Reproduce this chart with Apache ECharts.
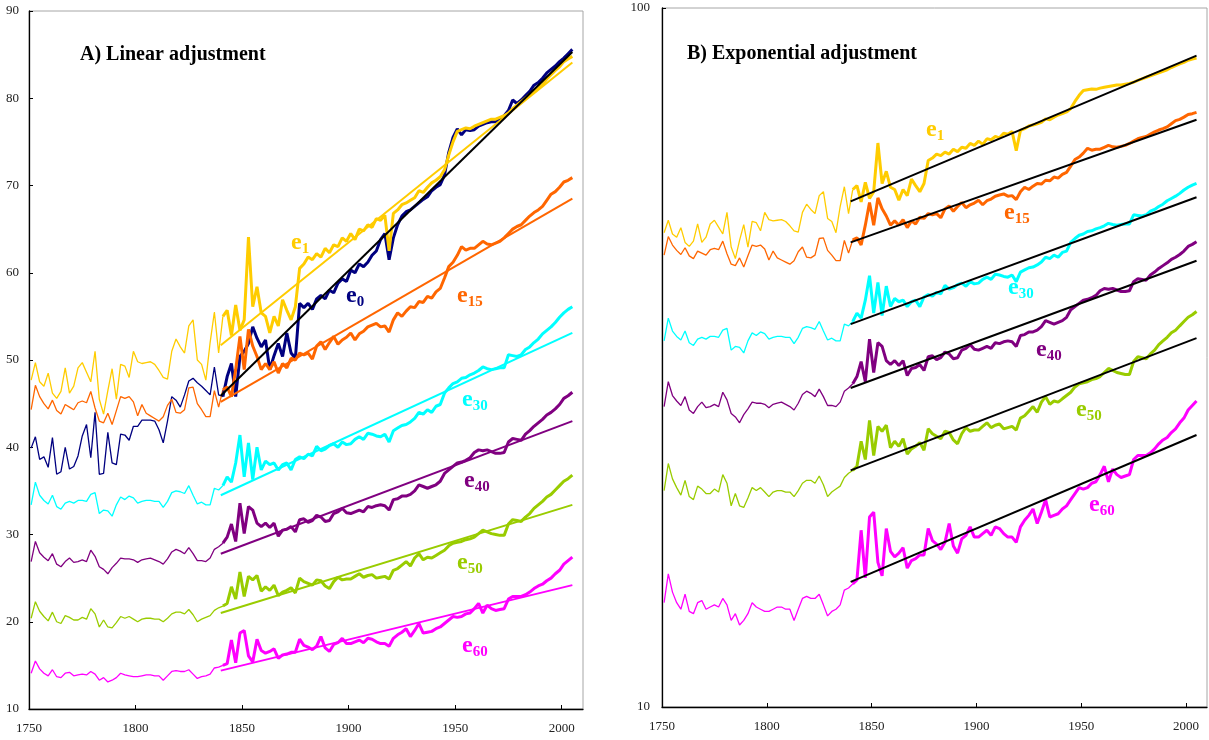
<!DOCTYPE html>
<html>
<head>
<meta charset="utf-8">
<script src="https://cdn.jsdelivr.net/npm/echarts@6/dist/echarts.min.js"></script>
<style>
  html, body { margin: 0; padding: 0; background: #fff; }
  #chart { width: 1209px; height: 740px; }
</style>
</head>
<body>
<div id="chart"></div>
<script>
  // years: thin part 1751-1839, thick part 1841-2005 (every second year)
  var yearsEarly = []
  for (var y = 1751; y <= 1839; y += 2) yearsEarly.push(y)
  var yearsLate = []
  for (var y2 = 1841; y2 <= 2005; y2 += 2) yearsLate.push(y2)
  var tickYears = [1750, 1800, 1850, 1900, 1950, 2000]
  var trendYears = [1840, 2005]

  // life expectancy e1
  var e1Early = [
    47.7, 49.7, 47.5, 47.0, 48.5, 46.2, 45.6, 46.4, 49.1, 46.2,
    47.0, 49.1, 49.7, 48.6, 47.5, 51.0, 45.5, 43.8, 46.5, 49.0,
    45.5, 49.5, 49.3, 48.0, 51.0, 49.8, 49.6, 49.7, 49.8, 49.5,
    48.8, 48.0, 47.8, 51.0, 52.4, 51.5, 50.8, 53.9, 54.6, 50.0,
    49.5, 47.7, 52.0, 55.5, 50.8
  ]
  var e1Late = [
    55.0, 55.7, 52.8, 56.3, 53.4, 54.6, 64.1, 56.1, 58.4, 55.4,
    55.0, 53.1, 55.0, 53.9, 56.9, 55.7, 54.6, 56.1, 60.5, 61.0,
    61.8, 61.5, 62.2, 61.8, 62.8, 62.3, 63.2, 63.0, 64.0, 63.6,
    64.5, 63.8, 65.0, 64.8, 65.5, 65.2, 66.2, 66.0, 66.6, 62.5,
    66.8, 67.2, 67.8, 68.0, 68.3, 68.6, 69.4, 69.2, 69.8, 70.3,
    70.6, 71.0, 71.8, 73.5, 75.0, 76.2, 76.4, 76.6, 76.5, 76.8,
    77.0, 77.2, 77.4, 77.6, 77.6, 77.8, 78.0, 78.3, 78.8, 79.2,
    79.6, 80.0, 80.4, 80.8, 81.2, 81.6, 82.2, 82.7, 83.2, 83.6,
    84.2, 84.5, 84.8
  ]
  // e0
  var e0Early = [
    39.9, 41.2, 38.6, 38.9, 37.7, 41.1, 36.9, 37.2, 40.0, 37.5,
    37.8, 39.0, 41.3, 42.6, 38.8, 44.0, 36.9, 37.0, 41.7, 38.2,
    38.0, 41.5, 41.4, 40.8, 42.4, 42.4, 43.1, 43.1, 43.1, 43.0,
    42.0, 40.5, 43.0, 45.8, 45.4, 44.6, 46.0, 47.6, 47.9, 47.4,
    47.0, 46.5, 46.0, 49.2, 46.0
  ]
  var e0Late = [
    45.8, 48.1, 49.6, 45.8, 50.4, 51.0, 51.9, 53.8, 52.5, 51.5,
    52.3, 48.9, 50.5, 51.9, 50.4, 53.1, 50.8, 50.2, 56.5, 56.0,
    56.5, 55.8, 57.0, 57.4, 57.0, 58.0, 57.7, 58.8, 59.3, 59.0,
    60.3, 60.0, 61.0, 60.7, 61.2, 62.0, 62.5, 63.8, 64.5, 61.5,
    64.0, 65.5, 66.5, 67.0, 67.2, 67.6, 68.0, 68.4, 68.7, 69.4,
    69.8, 70.1, 71.2, 73.8, 75.5, 76.5, 75.8, 76.4, 76.3, 76.4,
    76.8, 77.0, 77.2, 77.3, 77.3, 77.6, 78.0, 78.6, 79.8, 79.4,
    79.8, 80.3, 80.8, 81.5, 81.8, 82.3, 82.9, 83.3, 83.7, 84.2,
    84.6, 85.1, 85.6
  ]
  // e15
  var e15Early = [
    44.3, 47.1, 45.8, 45.0, 44.4, 45.4, 44.2, 43.8, 44.9, 44.6,
    44.3, 45.1, 45.3, 45.1, 46.4, 44.5, 43.0, 42.8, 43.9, 42.6,
    44.2, 45.8, 45.6, 45.8, 45.2, 43.6, 44.9, 43.9, 43.6, 43.3,
    43.0, 43.5, 44.8, 45.5, 44.0, 43.9, 44.3, 46.8, 46.9, 45.0,
    44.3, 43.5, 43.5, 46.5, 44.6
  ]
  var e15Late = [
    46.6, 46.9, 45.8, 48.9, 52.7, 48.9, 53.5, 51.6, 50.4, 48.9,
    49.6, 48.9, 49.8, 48.5, 49.6, 49.1, 50.2, 50.0, 50.8, 50.6,
    50.8, 50.1, 51.6, 52.1, 51.2, 52.0, 52.7, 51.8, 52.3, 52.6,
    53.1, 52.3, 53.0, 53.3, 53.8, 54.0, 54.2, 53.8, 53.9, 53.2,
    54.6, 55.4, 55.0, 55.6, 56.1, 56.0, 56.7, 56.6, 57.3, 57.1,
    57.8, 58.2, 59.4, 60.7, 61.2, 62.0, 63.0, 62.6, 62.8, 62.8,
    63.2, 63.6, 63.3, 63.2, 63.4, 63.6, 64.0, 64.5, 65.0, 65.3,
    65.5, 66.0, 66.5, 66.9, 67.2, 67.6, 68.3, 69.0, 69.3, 69.8,
    70.4, 70.6, 70.9
  ]
  // e30
  var e30Early = [
    33.4, 36.0, 34.5, 33.9, 33.5, 34.5, 33.2, 32.9, 33.6, 33.8,
    33.6, 33.9, 33.9, 33.8, 34.6, 34.8, 32.4, 32.8, 32.7, 32.1,
    33.4, 34.3, 34.0, 34.4, 34.2, 33.6, 33.8, 33.9, 33.9, 33.8,
    33.8, 33.1, 33.8, 34.8, 35.0, 34.9, 34.7, 35.6, 34.5, 33.5,
    33.7, 33.4, 33.4, 35.3, 35.1
  ]
  var e30Late = [
    35.6, 36.6, 36.0, 38.2, 41.4, 36.6, 40.5, 36.3, 40.0, 37.4,
    38.4, 38.0, 38.2, 37.4, 38.0, 38.2, 37.4, 38.6, 38.9, 38.7,
    39.2, 39.0, 40.1, 39.6, 39.8, 40.2, 40.4, 40.0, 40.6, 40.3,
    40.4, 40.9, 41.2, 40.9, 41.6, 41.5, 41.3, 41.2, 41.5, 40.6,
    41.9, 42.2, 42.5, 42.6, 42.9, 43.3, 44.0, 43.8, 44.3, 44.0,
    44.7, 44.9, 46.2, 46.8, 47.3, 47.5, 47.9, 48.0, 48.3, 48.5,
    48.8, 49.2, 49.0, 48.9, 49.0, 49.1, 49.1, 50.6, 50.5, 50.4,
    50.6, 51.2, 51.5, 52.0, 52.4, 53.0, 53.4, 53.8, 54.3, 54.9,
    55.4, 55.8, 56.1
  ]
  // e40
  var e40Early = [
    26.9, 29.2, 27.9, 27.4, 27.0, 27.8, 26.6, 26.3, 26.9, 27.3,
    26.8, 26.9, 27.1, 26.9, 28.2, 27.5, 26.3, 26.0, 25.5, 26.2,
    26.7, 27.3, 27.2, 27.2, 27.1, 26.8, 27.1, 27.2, 27.3, 27.1,
    26.9, 26.6, 27.2, 28.0, 28.3, 28.1, 27.8, 28.5, 27.8, 27.0,
    27.0, 26.9, 27.3, 28.3, 28.6
  ]
  var e40Late = [
    29.0, 29.7, 31.2, 29.2, 33.6, 30.1, 33.2, 32.8, 31.3, 30.9,
    31.3, 30.8, 31.3, 29.8, 30.5, 30.6, 30.9, 30.3, 31.7, 31.8,
    31.4, 31.6, 32.2, 32.0, 31.5, 31.6, 32.4, 32.6, 33.0, 32.5,
    32.4, 32.6, 32.8, 32.6, 33.2, 33.1, 33.3, 33.4, 33.3, 32.8,
    34.0, 34.1, 34.4, 34.4, 34.6, 35.0, 35.7, 35.5, 35.3, 35.5,
    35.7, 36.1, 37.0, 37.4, 37.8, 38.2, 38.3, 38.5, 38.8, 39.4,
    39.7, 39.6, 39.7, 39.5, 39.3, 39.3, 39.4, 40.6, 41.0, 40.9,
    40.8, 41.5, 41.9, 42.4, 42.8, 43.2, 43.7, 44.0, 44.4, 44.9,
    45.6, 45.9, 46.3
  ]
  // e50
  var e50Early = [
    20.4, 22.3, 21.2, 20.6, 20.1, 21.1, 20.0, 19.8, 20.7, 20.5,
    20.2, 20.2, 20.5, 20.3, 21.5, 20.9, 19.4, 20.2, 19.4, 19.3,
    19.9, 20.6, 20.4, 20.6, 20.3, 20.0, 20.3, 20.4, 20.4, 20.3,
    20.3, 20.0, 20.4, 20.9, 21.1, 21.1, 20.9, 21.4, 20.8, 20.0,
    20.3, 20.5, 20.7, 21.3, 21.6
  ]
  var e50Late = [
    21.8, 22.1, 24.0, 22.6, 25.7, 22.9, 25.2, 24.8, 25.3, 23.5,
    24.0, 23.6, 24.2, 23.0, 23.4, 23.6, 23.9, 23.3, 25.0, 24.6,
    24.4, 24.2, 24.8, 24.7, 24.1, 23.8, 24.6, 25.1, 24.8, 24.9,
    24.9, 25.2, 25.5, 25.1, 25.3, 25.4, 25.0, 25.1, 25.2, 24.9,
    25.9, 26.1, 26.5, 26.9, 26.4, 27.3, 27.8, 27.1, 27.4, 27.3,
    27.6, 27.9, 28.2, 28.7, 29.0, 29.1, 29.2, 29.4, 29.5, 29.7,
    30.1, 30.5, 30.3, 30.1, 30.0, 29.9, 29.9, 31.2, 31.7, 31.6,
    31.5, 32.0, 32.4, 33.0, 33.4, 33.8, 34.3, 34.6, 35.1, 35.6,
    36.1, 36.4, 36.8
  ]
  // e60
  var e60Early = [
    14.1, 15.5, 14.6, 14.1, 13.8, 14.5, 13.7, 13.6, 14.1, 14.2,
    13.8, 13.9, 14.0, 13.9, 14.3, 14.0, 13.3, 13.6, 13.1, 13.3,
    13.6, 14.1, 13.9, 13.8, 13.7, 13.7, 13.8, 13.9, 13.9, 13.8,
    13.8, 13.3, 13.8, 14.3, 14.4, 14.3, 14.3, 14.5, 14.0, 13.5,
    13.7, 13.8, 14.0, 14.7, 14.8
  ]
  var e60Late = [
    15.0, 15.2, 17.9, 15.3, 18.7, 19.0, 16.1, 15.4, 18.0, 16.7,
    16.4, 16.6, 16.9, 15.8, 16.2, 16.3, 16.5, 16.5, 18.0, 17.3,
    17.1, 16.8, 17.2, 18.3, 17.0, 16.6, 17.4, 17.6, 18.1, 17.5,
    17.5, 17.7, 17.9, 17.6, 18.1, 18.0, 17.7, 17.5, 17.5, 17.2,
    18.1, 18.5, 18.8, 19.2, 18.3, 19.0, 19.8, 18.7, 18.8, 18.9,
    19.2, 19.4, 19.8, 20.2, 20.6, 20.5, 20.6, 20.9, 21.0, 21.5,
    22.1, 21.0, 21.9, 21.5, 21.3, 21.4, 21.5, 22.6, 22.9, 22.9,
    22.9, 23.1, 23.4, 23.8, 24.1, 24.3, 24.7, 25.0, 25.5, 25.9,
    26.6, 27.0, 27.4
  ]

  // fitted trend end points (1840, 2005)
  var linTrend = {
    e1: [51.7, 84.1], e0: [45.9, 85.3], e15: [45.2, 68.5], e30: [34.5, 53.1],
    e40: [27.8, 43.0], e50: [21.0, 33.4], e60: [14.4, 24.2]
  }
  var expTrend = {
    e1: [52.9, 85.5], e15: [46.2, 69.2], e30: [35.3, 53.6],
    e40: [28.6, 43.5], e50: [21.8, 33.7], e60: [15.1, 24.5]
  }

  var colors = {
    e1: '#ffcc00', e0: '#000080', e15: '#ff6600', e30: '#00ffff',
    e40: '#800080', e50: '#99cc00', e60: '#ff00ff'
  }
  var seriesData = {
    e60: [e60Early, e60Late], e50: [e50Early, e50Late], e40: [e40Early, e40Late],
    e30: [e30Early, e30Late], e0: [e0Early, e0Late], e1: [e1Early, e1Late], e15: [e15Early, e15Late]
  }
  var order = ['e60', 'e50', 'e40', 'e30', 'e0', 'e1', 'e15']

  function pairs (xs, ys) {
    return xs.map(function (x, i) { return [x, ys[i]] })
  }
  function line (idx, data, color, width, z) {
    return {
      type: 'line', xAxisIndex: idx, yAxisIndex: idx, data: data,
      symbol: 'none', smooth: false, silent: true, z: z,
      lineStyle: { color: color, width: width }
    }
  }

  var series = []
  ;[0, 1].forEach(function (p) {
    order.forEach(function (k) {
      if (p === 1 && k === 'e0') return
      var early = pairs(yearsEarly, seriesData[k][0])
      early.push([yearsLate[0], seriesData[k][1][0]])
      series.push(line(p, early, colors[k], 1.3, 2))
      series.push(line(p, pairs(yearsLate, seriesData[k][1]), colors[k], 3, 3))
    })
    var tr = p === 0 ? linTrend : expTrend
    Object.keys(tr).forEach(function (k) {
      var c = (p === 0 && k !== 'e0') ? colors[k] : '#000'
      series.push(line(p, pairs(trendYears, tr[k]), c, 2, 4))
    })
  })

  // curve labels e with subscript
  var labels = [
    ['1', 'e1', 291, 231], ['0', 'e0', 346, 284], ['15', 'e15', 457, 284], ['30', 'e30', 462, 388],
    ['40', 'e40', 464, 469], ['50', 'e50', 457, 551], ['60', 'e60', 462, 634],
    ['1', 'e1', 926, 118], ['15', 'e15', 1004, 201], ['30', 'e30', 1008, 276],
    ['40', 'e40', 1036, 338], ['50', 'e50', 1076, 398], ['60', 'e60', 1089, 493]
  ]
  var graphic = labels.map(function (l) {
    var c = colors[l[1]]
    return {
      type: 'text', left: l[2], top: l[3], z: 10,
      style: {
        text: '{e|e}{s|' + l[0] + '}',
        rich: {
          e: { fontFamily: 'Liberation Serif', fontWeight: 'bold', fontSize: 24, fill: c, verticalAlign: 'bottom' },
          s: { fontFamily: 'Liberation Serif', fontWeight: 'bold', fontSize: 15, fill: c, verticalAlign: 'bottom', padding: [0, 0, -2, 0] }
        }
      }
    }
  })

  var labelFont = { fontFamily: 'Liberation Serif', fontSize: 13, color: '#222' }
  function plain (v) { return String(v) }
  function xAxis (idx) {
    return {
      gridIndex: idx, type: 'value', min: 1750, max: 2010,
      axisLine: { onZero: false, lineStyle: { color: '#000', width: 1.3 } },
      axisTick: { inside: true, length: 4, customValues: tickYears, lineStyle: { color: '#000' } },
      axisLabel: Object.assign({ margin: 13, customValues: tickYears, formatter: plain }, labelFont),
      splitLine: { show: false }
    }
  }

  var chart = echarts.init(document.getElementById('chart'))
  chart.setOption({
    animation: false,
    backgroundColor: '#fff',
    title: [
      { text: 'A) Linear adjustment', left: 80, top: 45, padding: 0,
        textStyle: { fontFamily: 'Liberation Serif', fontSize: 20, fontWeight: 'bold', color: '#000' } },
      { text: 'B) Exponential adjustment', left: 687, top: 44, padding: 0,
        textStyle: { fontFamily: 'Liberation Serif', fontSize: 20, fontWeight: 'bold', color: '#000' } }
    ],
    grid: [
      { left: 29, top: 11, width: 554, height: 698, show: true, borderColor: '#a6a6a6', borderWidth: 1 },
      { left: 662, top: 8, width: 545, height: 699, show: true, borderColor: '#a6a6a6', borderWidth: 1 }
    ],
    xAxis: [xAxis(0), xAxis(1)],
    yAxis: [
      {
        gridIndex: 0, type: 'value', min: 10, max: 90, interval: 10,
        axisLine: { show: true, lineStyle: { color: '#000', width: 1.3 } },
        axisTick: { show: true, inside: true, length: 4, lineStyle: { color: '#000' } },
        axisLabel: Object.assign({ margin: 10, formatter: plain }, labelFont),
        splitLine: { show: false }
      },
      {
        gridIndex: 1, type: 'log', logBase: 10, min: 10, max: 100,
        axisLine: { show: true, lineStyle: { color: '#000', width: 1.3 } },
        axisTick: { show: true, inside: true, length: 4, customValues: [10, 100], lineStyle: { color: '#000' } },
        axisLabel: Object.assign({ margin: 12, customValues: [10, 100], formatter: plain }, labelFont),
        splitLine: { show: false }, minorTick: { show: false }
      }
    ],
    series: series,
    graphic: graphic
  })
</script>
</body>
</html>
